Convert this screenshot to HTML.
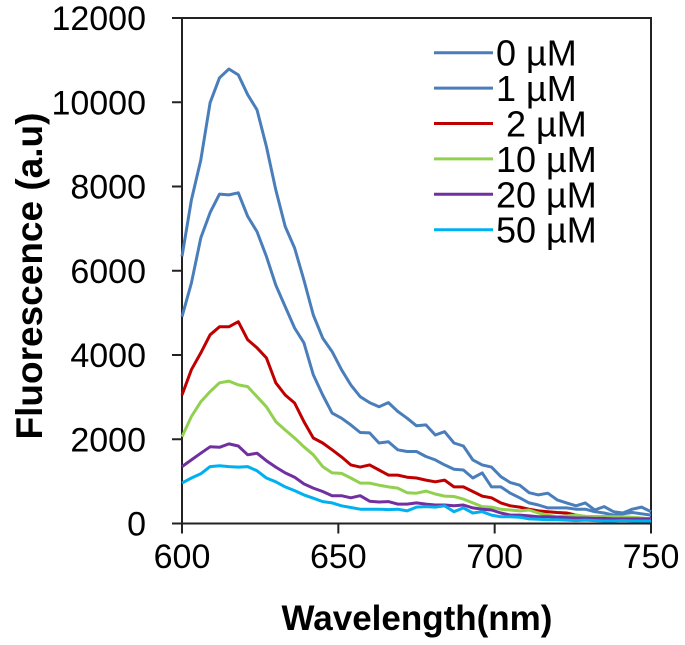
<!DOCTYPE html>
<html><head><meta charset="utf-8"><style>
html,body{margin:0;padding:0;background:#fff;}
svg{display:block;font-family:"Liberation Sans",Arial,sans-serif;}
</style></head><body>
<svg id="chart" width="685" height="645" viewBox="0 0 685 645"></svg>
<script>
const wavelengthStart = 600;
const wavelengthStep = 3;
const series0uM = [6340,7680,8630,9990,10580,10790,10650,10180,9820,8950,7920,7050,6540,5780,4950,4400,4080,3650,3290,3010,2870,2770,2870,2660,2500,2320,2340,2100,2180,1910,1840,1510,1390,1340,1110,970,910,730,680,720,560,490,420,490,320,400,280,250,340,390,280];
const series1uM = [4910,5710,6780,7380,7820,7800,7850,7290,6930,6340,5660,5150,4640,4290,3530,3050,2620,2500,2340,2160,2150,1910,1940,1750,1710,1710,1590,1510,1390,1290,1270,1080,1200,870,870,720,610,490,440,370,370,370,340,340,280,250,200,230,260,230,200];
const series2uM = [3050,3650,4050,4480,4670,4670,4790,4360,4170,3930,3340,3050,2860,2420,2030,1910,1750,1580,1390,1340,1390,1270,1150,1150,1100,1080,1030,990,1030,870,870,760,650,610,490,420,390,340,300,280,260,250,200,160,160,160,150,160,110,110,110];
const series10uM = [2060,2540,2890,3130,3340,3380,3290,3250,3010,2770,2420,2220,2030,1820,1630,1350,1200,1190,1080,960,960,910,870,840,730,720,770,700,650,640,580,490,400,390,340,320,300,320,250,200,160,180,200,170,160,160,160,160,150,130,110];
const series20uM = [1350,1510,1670,1820,1810,1890,1840,1630,1670,1490,1340,1200,1100,940,840,760,660,660,610,660,530,510,520,460,460,490,460,440,440,420,440,370,340,320,250,200,200,180,160,160,150,140,130,130,120,120,110,110,110,110,110];
const series50uM = [960,1080,1180,1350,1370,1350,1340,1350,1250,1080,990,870,780,680,600,520,490,420,380,340,340,340,330,340,300,390,400,390,420,280,370,250,280,200,160,160,150,110,100,90,90,80,70,80,70,60,60,70,60,60,60];
const seriesLabels = ["0 µM","1 µM"," 2 µM","10 µM","20 µM","50 µM"];
const yTicks = [0,2000,4000,6000,8000,10000,12000];
const xTicks = [600,650,700,750];

const NS="http://www.w3.org/2000/svg";
const svg=document.getElementById('chart');
const X0=182,X1=651,Y0=523.5,Y1=18;
const xs=w=>X0+(w-600)/150*(X1-X0);
const ys=v=>Y0-v/12000*(Y0-Y1);
function mk(tag,attrs,parent){const e=document.createElementNS(NS,tag);for(const k in attrs)e.setAttribute(k,attrs[k]);(parent||svg).appendChild(e);return e;}

const frame=mk('rect',{x:X0,y:Y1,width:X1-X0,height:Y0-Y1,fill:'none',stroke:'#222','stroke-width':2});



yTicks.forEach(v=>{
  const t=mk('line',{x1:X0-10,x2:X0,y1:ys(v),y2:ys(v),stroke:'#222','stroke-width':2});
  
  
  const l=mk('text',{x:146,y:ys(v)+12,'text-anchor':'end','font-size':34,fill:'#000'});
  l.textContent=v;
  
  
});
xTicks.forEach(v=>{
  const t=mk('line',{x1:xs(v),x2:xs(v),y1:Y0,y2:Y0+10,stroke:'#222','stroke-width':2});
  
  
  const l=mk('text',{x:xs(v),y:568,'text-anchor':'middle','font-size':34,fill:'#000'});
  l.textContent=v;
  
  
});

const xt=mk('text',{x:417,y:630,'text-anchor':'middle','font-size':35,'font-weight':'bold',fill:'#000'});
xt.textContent='Wavelength(nm)';


const yt=mk('text',{x:0,y:0,'text-anchor':'middle','font-size':37,'font-weight':'bold',fill:'#000',transform:'translate(42,276) rotate(-90)'});
yt.textContent='Fluorescence (a.u)';



const allSeries=[series0uM,series1uM,series2uM,series10uM,series20uM,series50uM];
const colors=['#4a7ebb','#4a7ebb','#c00000','#92d050','#7030a0','#00b0f0'];
allSeries.forEach((s,i)=>{
  const pts=s.map((v,j)=>xs(wavelengthStart+j*wavelengthStep).toFixed(1)+','+ys(v).toFixed(1)).join(' ');
  const p=mk('polyline',{points:pts,fill:'none',stroke:colors[i],'stroke-width':3,'stroke-linejoin':'round'});
  
  
});

seriesLabels.forEach((lab,i)=>{
  const y=52.7+i*35.4;
  const g=mk('g',{});
  
  
  mk('line',{x1:434,x2:493,y1:y,y2:y,stroke:colors[i],'stroke-width':3},g);
  const t=mk('text',{x:496,y:y+13,'font-size':36,fill:'#000'},g);
  t.textContent=lab;
  t.setAttribute('style','white-space:pre');
});
</script>
</body></html>
